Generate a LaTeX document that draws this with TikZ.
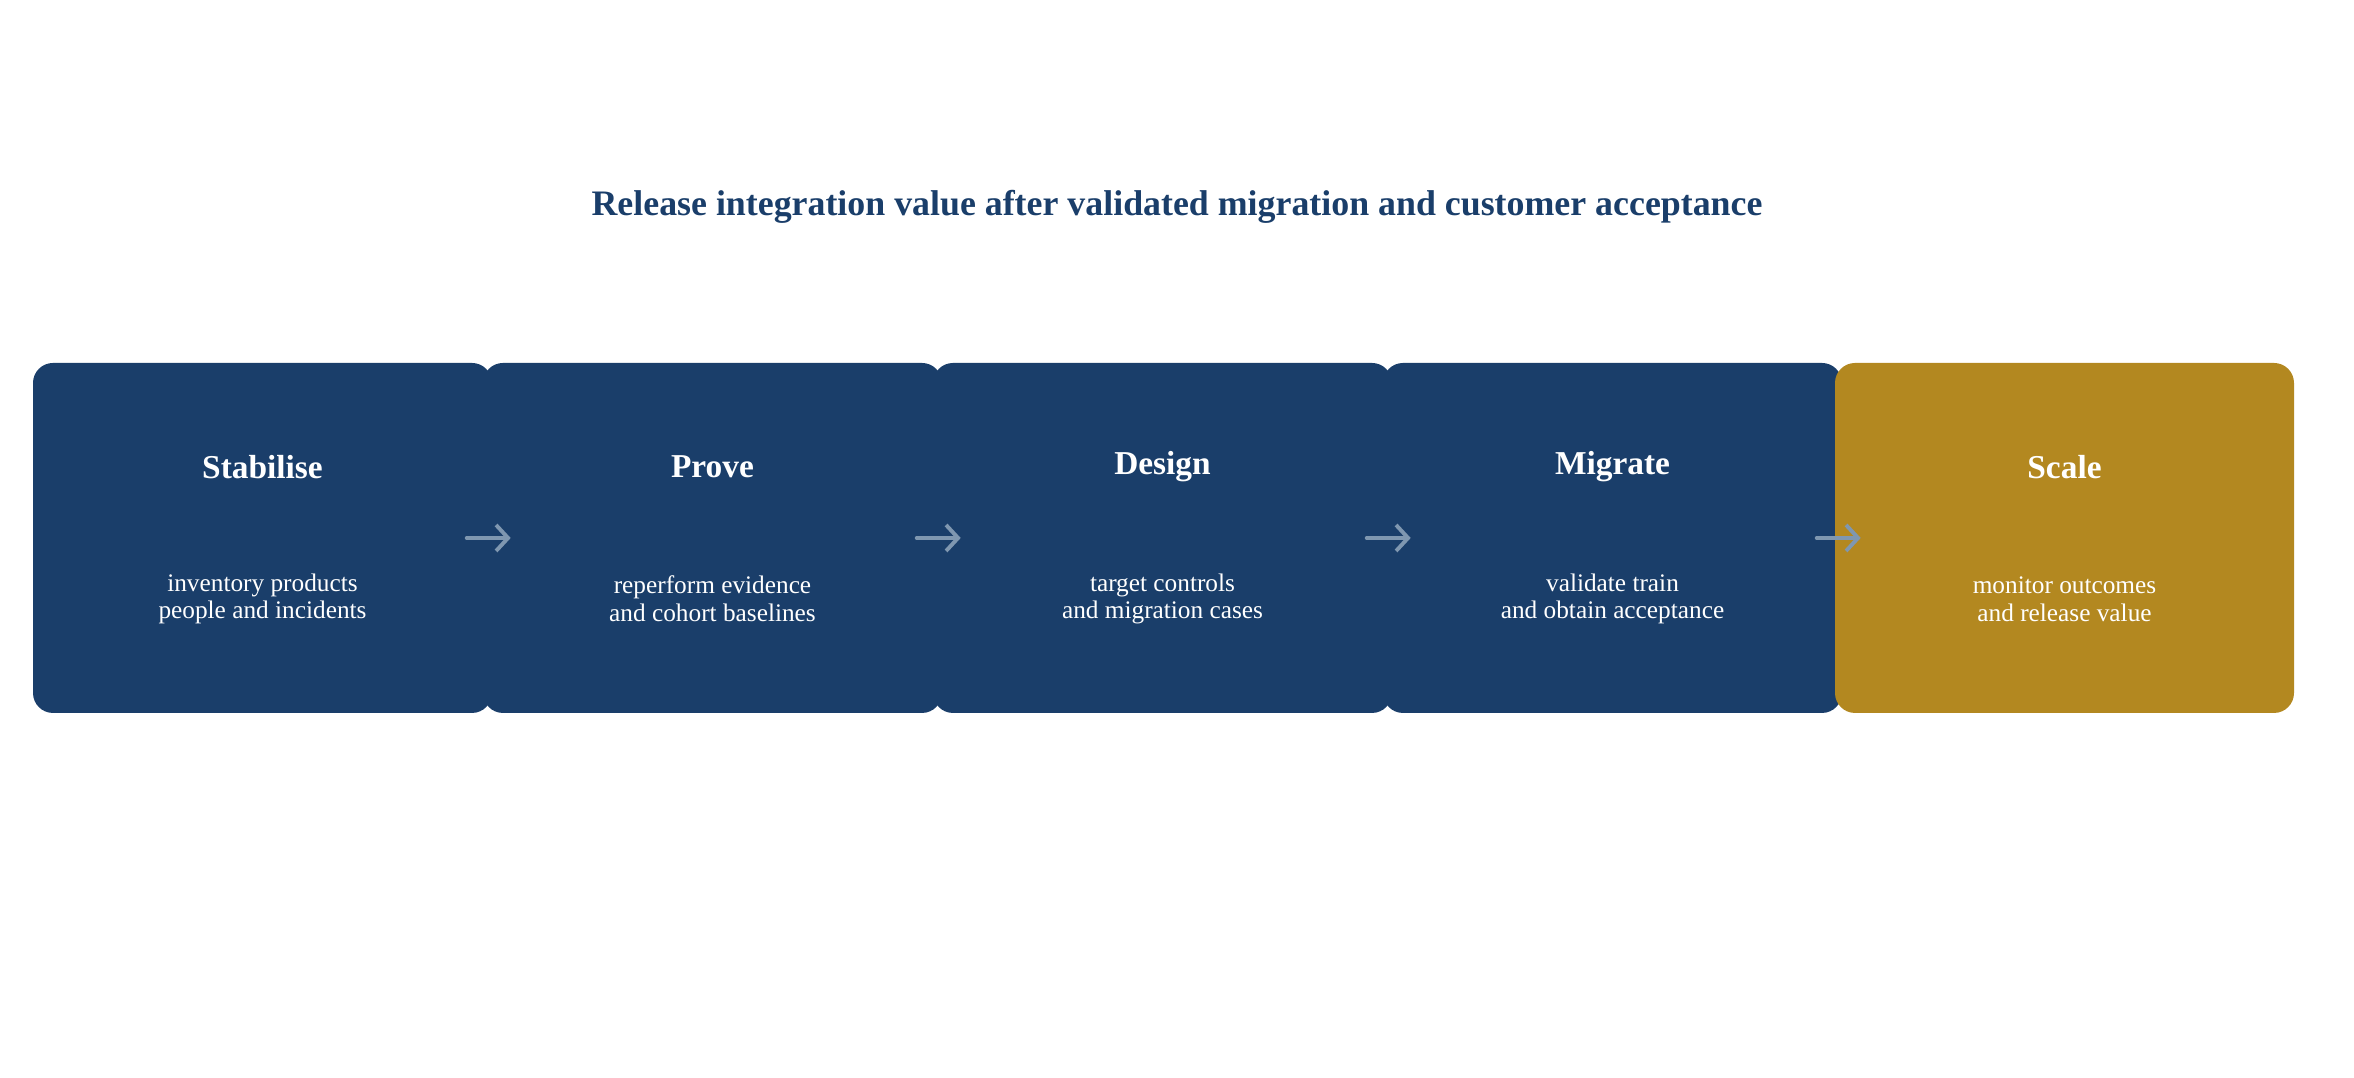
\documentclass[tikz,border=0pt]{standalone}
\usepackage{fontspec}
\setmainfont{Liberation Serif}
\usetikzlibrary{positioning,arrows.meta}

\definecolor{navy}{HTML}{1A3E6A}
\definecolor{gold}{HTML}{B38820}
\definecolor{steel}{HTML}{7F97B0}

\tikzset{
  stage/.style={rounded corners=2mm,minimum width=4.59cm,minimum height=3.5cm,inner sep=0pt},
  head/.style={text=white,font=\bfseries\fontsize{9.5}{11}\selectfont},
  body/.style={text=white,align=center,font=\fontsize{7.2}{7.9}\selectfont},
  flow/.style={draw=steel,line width=1.1pt,line cap=round,-{Straight Barb[length=1.2mm,width=2.6mm]}}
}

\begin{document}
\begin{tikzpicture}
  \useasboundingbox (0,0) rectangle (23.54,10.78);

  \node[text=navy,font=\bfseries\fontsize{10.2}{12}\selectfont] (title) at (11.77,8.71)
    {Release integration value after validated migration and customer acceptance};

  \node[stage,fill=navy] (b1) at (2.625,5.40) {};
  \node[stage,fill=navy] (b2) at (7.125,5.40) {};
  \node[stage,fill=navy] (b3) at (11.625,5.40) {};
  \node[stage,fill=navy] (b4) at (16.125,5.40) {};
  \node[stage,fill=gold] (b5) at (20.645,5.40) {};

  \foreach \b/\h/\t in {b1/Stabilise/{inventory products\\people and incidents},
                        b2/Prove/{reperform evidence\\and cohort baselines},
                        b3/Design/{target controls\\and migration cases},
                        b4/Migrate/{validate train\\and obtain acceptance},
                        b5/Scale/{monitor outcomes\\and release value}} {
    \node[head] (\b h) at ([yshift=7.1mm]\b) {\h};
    \node[body] (\b t) at ([yshift=-6.1mm]\b) {\t};
  }

  \foreach \a in {b1,b2,b3,b4} {
    \coordinate (\a s) at ([xshift=-2.6mm]\a.east);
    \coordinate (\a e) at ([xshift=1.8mm]\a.east);
    \draw[flow] (\a s) -- (\a e);
  }
\end{tikzpicture}
\end{document}
